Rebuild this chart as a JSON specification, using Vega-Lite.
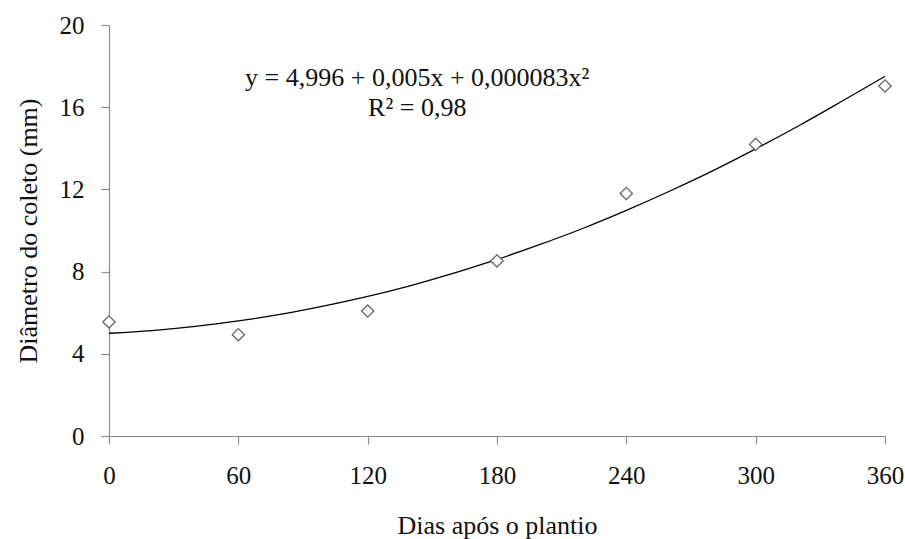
{
  "$schema": "https://vega.github.io/schema/vega-lite/v6.json",
  "width": 776,
  "height": 411,
  "autosize": {"type": "none"},
  "padding": {"left": 109, "top": 25, "right": 20, "bottom": 103},
  "background": "white",
  "config": {
    "view": {"stroke": null},
    "font": "Liberation Serif",
    "axis": {
      "grid": false,
      "domainColor": "#8c8c8c",
      "tickColor": "#8c8c8c",
      "domainWidth": 1.2,
      "tickWidth": 1.2,
      "tickSize": 8,
      "labelFont": "Liberation Serif",
      "labelFontSize": 25,
      "labelColor": "#111",
      "titleFont": "Liberation Serif",
      "titleFontSize": 26,
      "titleFontWeight": "normal",
      "titleColor": "#111"
    }
  },
  "datasets": {
    "obs": [
      {"dias": 0, "diametro": 5.55},
      {"dias": 60, "diametro": 4.93},
      {"dias": 120, "diametro": 6.08},
      {"dias": 180, "diametro": 8.52},
      {"dias": 240, "diametro": 11.8},
      {"dias": 300, "diametro": 14.19},
      {"dias": 360, "diametro": 17.03}
    ],
    "fit": [
      {"dias": 0, "diametro": 5.0},
      {"dias": 20, "diametro": 5.13},
      {"dias": 40, "diametro": 5.33},
      {"dias": 60, "diametro": 5.6},
      {"dias": 80, "diametro": 5.93},
      {"dias": 100, "diametro": 6.33},
      {"dias": 120, "diametro": 6.79},
      {"dias": 140, "diametro": 7.32},
      {"dias": 160, "diametro": 7.92},
      {"dias": 180, "diametro": 8.59},
      {"dias": 200, "diametro": 9.32},
      {"dias": 220, "diametro": 10.11},
      {"dias": 240, "diametro": 10.98},
      {"dias": 260, "diametro": 11.91},
      {"dias": 280, "diametro": 12.9},
      {"dias": 300, "diametro": 13.97},
      {"dias": 320, "diametro": 15.1},
      {"dias": 340, "diametro": 16.29},
      {"dias": 360, "diametro": 17.5}
    ],
    "labels": [
      {"dias": 143, "diametro": 17.42, "texto": "y = 4,996 + 0,005x + 0,000083x²"},
      {"dias": 143, "diametro": 15.96, "texto": "R² = 0,98"}
    ]
  },
  "layer": [
    {
      "data": {"name": "fit"},
      "mark": {"type": "line", "color": "#000", "strokeWidth": 1.3, "interpolate": "monotone"},
      "encoding": {
        "x": {
          "field": "dias", "type": "quantitative",
          "scale": {"domain": [0, 360], "nice": false},
          "axis": {"values": [0, 60, 120, 180, 240, 300, 360], "title": "Dias após o plantio", "labelPadding": 19, "titlePadding": 24, "labelFlush": false}
        },
        "y": {
          "field": "diametro", "type": "quantitative",
          "scale": {"domain": [0, 20], "nice": false},
          "axis": {"values": [0, 4, 8, 12, 16, 20], "title": "Diâmetro do coleto (mm)", "labelPadding": 17, "titlePadding": 18, "labelFlush": false}
        }
      }
    },
    {
      "data": {"name": "obs"},
      "mark": {"type": "point", "shape": "diamond", "size": 150, "filled": false, "fill": "white", "fillOpacity": 1, "stroke": "#666", "strokeWidth": 1.3, "opacity": 1},
      "encoding": {
        "x": {"field": "dias", "type": "quantitative"},
        "y": {"field": "diametro", "type": "quantitative"}
      }
    },
    {
      "data": {"name": "labels"},
      "mark": {"type": "text", "font": "Liberation Serif", "fontSize": 26, "color": "#111", "align": "center", "baseline": "middle"},
      "encoding": {
        "x": {"field": "dias", "type": "quantitative"},
        "y": {"field": "diametro", "type": "quantitative"},
        "text": {"field": "texto"}
      }
    }
  ]
}
